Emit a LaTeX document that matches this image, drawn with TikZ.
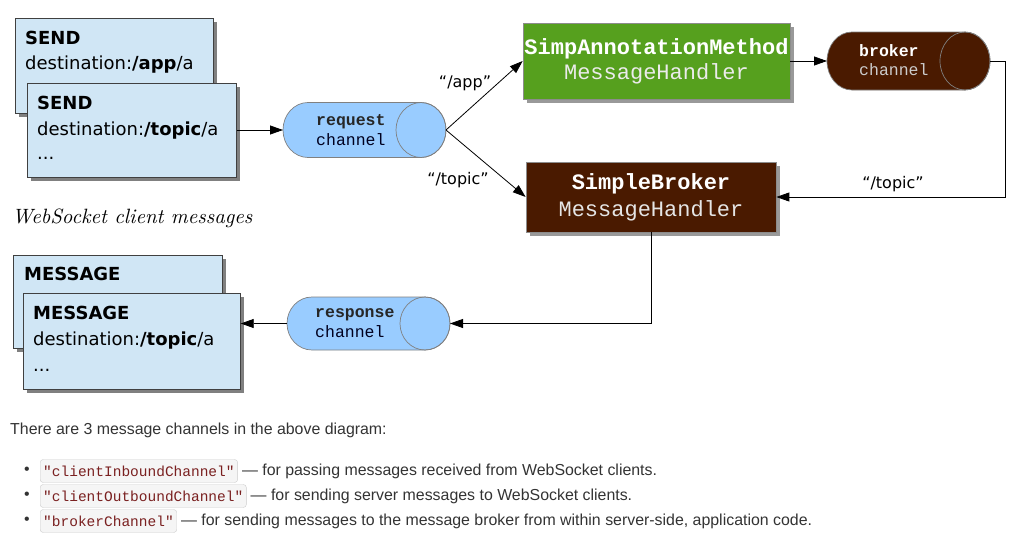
\documentclass[tikz,border=0pt]{standalone}
\usepackage{fontspec}
\usetikzlibrary{arrows.meta,shadows}
\newfontfamily\comic{DejaVu Sans}
\newfontfamily\monof{Liberation Mono}
\newfontfamily\arial{Liberation Sans}
\newfontfamily\capfont{lmroman10-italic}[Extension=.otf]
\definecolor{msgblue}{HTML}{D0E6F5}
\definecolor{chanblue}{HTML}{99CCFF}
\definecolor{hgreen}{HTML}{56A01E}
\definecolor{hbrown}{HTML}{4A1A00}
\definecolor{txtgray}{HTML}{333333}
\definecolor{codered}{HTML}{7A2020}
\tikzset{
  msgbox/.style={draw=black!75, fill=msgblue, line width=0.7pt, inner sep=0pt, anchor=north west,
    drop shadow={shadow xshift=4pt, shadow yshift=-4pt, fill=black!50, opacity=1}},
  hbox/.style={draw=black!45, line width=0.7pt, inner sep=0pt, align=center,
    drop shadow={shadow xshift=4pt, shadow yshift=-4pt, fill=black!40, opacity=1}},
  mtext/.style={anchor=west, inner sep=0pt, font=\comic\fontsize{18}{21}\selectfont, text=black},
  chtext/.style={anchor=west, inner sep=0pt, align=left, font=\monof\fontsize{16.5}{19.5}\selectfont},
  lbl/.style={inner sep=0pt, font=\comic\fontsize{16}{19}\selectfont},
  conn/.style={draw=black, line width=0.8pt, -{Triangle[length=13pt,width=9pt]}},
  chanref/.style={inner sep=0pt, outer sep=0pt},
  codebox/.style={draw=black!20, fill=black!4, rounded corners=3pt, inner xsep=3pt, inner ysep=3pt,
    anchor=west, text=codered, font=\monof\fontsize{14.5}{17}\selectfont, minimum height=23pt},
  bodytext/.style={anchor=west, inner sep=0pt, text=txtgray, font=\arial\fontsize{15.9}{19}\selectfont},
}
\newcommand\drawchan[6]{%
  \filldraw[fill=#5, draw=#6, line width=0.7pt] (#1+25,-#3+#4) -- (#2-25,-#3+#4)
    arc[start angle=90,end angle=-90,x radius=25pt,y radius=#4pt] -- (#1+25,-#3-#4)
    arc[start angle=270,end angle=90,x radius=25pt,y radius=#4pt] -- cycle;
  \draw[draw=#6, line width=0.7pt] (#2-25,-#3) ellipse[x radius=25pt, y radius=#4pt];
}
\begin{document}
\begin{tikzpicture}[x=1pt,y=1pt]
\useasboundingbox (0,0) rectangle (1028,-538);
% client message boxes
\node[msgbox, minimum width=198pt, minimum height=95pt] (send1) at (15,-18) {};
\node[mtext] (send1a) at (25,-38) {\bfseries SEND};
\node[mtext] (send1b) at (25,-65) {destination:\textbf{/app}/a};
\node[msgbox, minimum width=209pt, minimum height=94pt] (send2) at (27,-83) {};
\node[mtext] (send2a) at (37,-103) {\bfseries SEND};
\node[mtext] (send2b) at (37,-131) {destination:\textbf{/topic}/a};
\node[mtext] (send2c) at (37,-158) {...};
\node[anchor=west, inner sep=0pt, font=\capfont\fontsize{20.7}{24}\selectfont] (cap) at (12,-218) {WebSocket client messages};
\node[msgbox, minimum width=209pt, minimum height=93pt] (msg1) at (13,-255) {};
\node[mtext] (msg1a) at (24,-274) {\bfseries MESSAGE};
\node[msgbox, minimum width=217pt, minimum height=96pt] (msg2) at (23,-293) {};
\node[mtext] (msg2a) at (33,-313) {\bfseries MESSAGE};
\node[mtext] (msg2b) at (33,-341) {destination:\textbf{/topic}/a};
\node[mtext] (msg2c) at (33,-370) {...};
% channels
\drawchan{283}{446}{130}{27.5}{chanblue}{black!50}
\node[chanref, minimum width=163pt, minimum height=55pt] (req) at (364.5,-130) {};
\node[chtext, text=black!80!blue!60!black] (reqt) at (316,-130) {\textbf{\color{black!85}request}\\channel};
\drawchan{287}{450}{323.5}{26.5}{chanblue}{black!50}
\node[chanref, minimum width=163pt, minimum height=53pt] (resp) at (368.5,-323.5) {};
\node[chtext, text=black!80!blue!60!black] (respt) at (315,-323) {\textbf{\color{black!85}response}\\channel};
\drawchan{827}{990}{61}{29}{hbrown}{black!50}
\node[chanref, minimum width=163pt, minimum height=58pt] (brk) at (908.5,-61) {};
\node[chtext, text=black!20] (brkt) at (859,-60) {\textbf{\color{white}broker}\\channel};
% handlers
\node[hbox, fill=hgreen, minimum width=267pt, minimum height=76pt,
  font=\monof\fontsize{22}{25}\selectfont] (ann) at (656.5,-61)
  {\textbf{\color{white}SimpAnnotationMethod}\\\color{black!8}MessageHandler};
\node[hbox, fill=hbrown, minimum width=250pt, minimum height=70pt,
  font=\monof\fontsize{22}{27}\selectfont] (sb) at (651,-197)
  {\textbf{\color{white}SimpleBroker}\\\color{black!10}MessageHandler};
% connectors
\draw[conn] (send2.east |- req.west) -- (req.west);
\draw[conn] (req.east) -- (ann.west);
\draw[conn] (req.east) -- (sb.west);
\draw[conn] (ann.east |- brk.west) -- (brk.west);
\coordinate (c1) at (1005,-61);
\draw[conn] (brk.east) -- (c1) |- (sb.east);
\draw[conn] (sb.south) |- (resp.east);
\draw[conn] (resp.west) -- (resp.west -| msg2.east);
% labels
\node[lbl] (lapp) at (465,-83) {“/app”};
\node[lbl] (ltop1) at (458,-180) {“/topic”};
\node[lbl] (ltop2) at (893,-184) {“/topic”};
% text below
\node[bodytext] (intro) at (10,-430) {There are 3 message channels in the above diagram:};
\node[bodytext] (b1) at (24,-471) {•};
\node[codebox] (k1) at (40,-471) {"clientInboundChannel"};
\node[bodytext] (t1) at ([xshift=4pt]k1.east) {— for passing messages received from WebSocket clients.};
\node[bodytext] (b2) at (24,-496) {•};
\node[codebox] (k2) at (40,-496) {"clientOutboundChannel"};
\node[bodytext] (t2) at ([xshift=4pt]k2.east) {— for sending server messages to WebSocket clients.};
\node[bodytext] (b3) at (24,-521) {•};
\node[codebox] (k3) at (40,-521) {"brokerChannel"};
\node[bodytext] (t3) at ([xshift=4pt]k3.east) {— for sending messages to the message broker from within server-side, application code.};
\end{tikzpicture}
\end{document}
